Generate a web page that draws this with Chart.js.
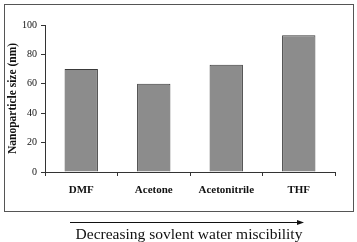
<!DOCTYPE html>
<html>
<head>
<meta charset="utf-8">
<script src="https://cdn.jsdelivr.net/npm/chart.js@4/dist/chart.umd.min.js"></script>
<style>
  html, body { margin: 0; padding: 0; background: #fff; }
  #wrap { width: 357px; height: 242px; position: relative; }
</style>
</head>
<body>
<div id="wrap"><canvas id="chart" width="357" height="242"></canvas></div>
<script>
const solvents = ['DMF', 'Acetone', 'Acetonitrile', 'THF'];
const sizes = [70, 60, 73, 93];
const yTicks = [0, 20, 40, 60, 80, 100];
const bottomNote = 'Decreasing sovlent water miscibility';

// outer frame + arrow + note underneath
const framePlugin = {
    id: 'frame',
    afterDraw(chart) {
        const ctx = chart.ctx;
        ctx.save();
        ctx.strokeStyle = '#555';
        ctx.lineWidth = 1;
        ctx.strokeRect(4.5, 4.5, 349, 207);

        ctx.strokeStyle = '#111';
        ctx.beginPath();
        ctx.moveTo(70, 222.5);
        ctx.lineTo(300, 222.5);
        ctx.stroke();
        ctx.fillStyle = '#111';
        ctx.beginPath();
        ctx.moveTo(304, 222.5);
        ctx.lineTo(297, 220);
        ctx.lineTo(297, 225);
        ctx.closePath();
        ctx.fill();

        ctx.font = '15.5px "Liberation Serif"';
        ctx.textAlign = 'center';
        ctx.textBaseline = 'middle';
        ctx.fillText(bottomNote, 189, 235);
        ctx.restore();
    }
};

new Chart(document.getElementById('chart').getContext('2d'), {
    type: 'bar',
    data: {
        labels: solvents,
        datasets: [{
            data: sizes,
            backgroundColor: '#8c8c8c',
            borderColor: '#3a3a3a',
            borderWidth: 1,
            barPercentage: 0.46,
            categoryPercentage: 1
        }]
    },
    options: {
        responsive: false,
        animation: false,
        layout: { padding: { left: 0, right: 22, top: 25, bottom: 0 } },
        plugins: { legend: { display: false }, tooltip: { enabled: false } },
        scales: {
            x: {
                afterFit: s => { s.height = 70; },
                border: { color: '#333', width: 1 },
                grid: { offset: true, drawOnChartArea: false, tickLength: 4, color: '#333' },
                ticks: { color: '#111', padding: 8, font: { family: 'Liberation Serif', size: 11, weight: 'bold' } }
            },
            y: {
                min: 0, max: 100,
                afterFit: s => { s.width = 45; },
                afterBuildTicks: s => { s.ticks = yTicks.map(v => ({ value: v })); },
                border: { color: '#333', width: 1 },
                grid: { drawOnChartArea: false, tickLength: 4, color: '#333' },
                ticks: { color: '#111', padding: 4, font: { family: 'Liberation Serif', size: 10 } },
                title: {
                    display: true,
                    text: 'Nanoparticle size (nm)',
                    color: '#111',
                    padding: { top: 6, bottom: 0 },
                    font: { family: 'Liberation Serif', size: 11.5, weight: 'bold' }
                }
            }
        }
    },
    plugins: [framePlugin]
});
</script>
</body>
</html>
